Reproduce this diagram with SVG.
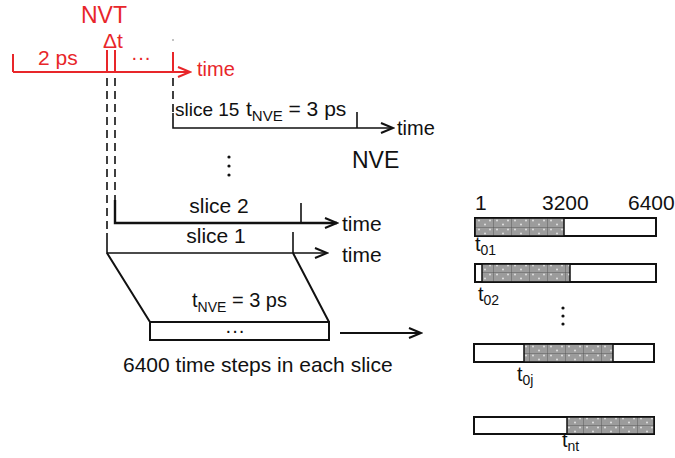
<svg xmlns="http://www.w3.org/2000/svg" width="675" height="458" viewBox="0 0 675 458">
<style>
text{font-family:"Liberation Sans",Arial,sans-serif;font-size:20px;fill:#111}
.red{fill:#e8262a}
.rl{stroke:#e8262a;stroke-width:2;fill:none}
.bl{stroke:#111;stroke-width:1.6;fill:none}
.dash{stroke:#111;stroke-width:1.6;stroke-dasharray:8 5;fill:none}
.bar{fill:#fff;stroke:#111;stroke-width:2}
.shade{fill:url(#hatch);stroke:#111;stroke-width:1.5}
.sub{font-size:14px}
.big{font-size:21px}
</style>
<defs>
<marker id="ar" markerUnits="userSpaceOnUse" markerWidth="16" markerHeight="14" refX="14" refY="6" orient="auto">
<path d="M2,1 L14,6 L2,11" fill="none" stroke="#111" stroke-width="2"/>
</marker>
<marker id="arr" markerUnits="userSpaceOnUse" markerWidth="16" markerHeight="14" refX="14" refY="6" orient="auto">
<path d="M2,1 L14,6 L2,11" fill="none" stroke="#e8262a" stroke-width="2"/>
</marker>
<pattern id="hatch" patternUnits="userSpaceOnUse" width="18" height="9" x="475" y="218">
<rect width="18" height="9" fill="#9c9c9c"/>
<circle cx="4" cy="2.5" r="1" fill="#e0e0e0"/>
<circle cx="10" cy="6.5" r="1" fill="#e0e0e0"/>
<circle cx="15" cy="2.5" r="1" fill="#e0e0e0"/>
<path d="M0,0 V9 M0,0 H18" stroke="#5a5a5a" stroke-width="1"/>
</pattern>
</defs>

<g id="nvt">
<text x="104" y="23" class="red" style="font-size:23px" text-anchor="middle">NVT</text>
<text x="113" y="48" class="red" text-anchor="middle" style="font-size:21px">Δt</text>
<text x="38" y="65" class="red big">2 ps</text>
<text x="141" y="64" class="red" text-anchor="middle">···</text>
<text x="197" y="76" class="red">time</text>
<circle cx="173" cy="40" r="0.8" fill="#777"/>
<path class="rl" d="M13,54 V72 M107,50 V72 M115,50 V72 M173,52 V72"/>
</g>

<g id="connectors">
<path class="rl" d="M13,72 H190" marker-end="url(#arr)"/>
<path class="dash" d="M107,78 V233 M115,78 V200 M173,78 V113"/>
<path class="bl" d="M173,113 V128 H393" marker-end="url(#ar)"/>
<path class="bl" d="M357,112 V128"/>
<path class="bl" style="stroke-width:2.4" d="M115,200 V223 H337" marker-end="url(#ar)"/>
<path class="bl" d="M301,203 V223"/>
<path class="bl" d="M107,233 V253 H327" marker-end="url(#ar)"/>
<path class="bl" d="M293,232 V253"/>
<path class="bl" style="stroke-width:2" d="M107,253 L150,322 M293,253 L329,322"/>
<path class="bl" style="stroke-width:2" d="M340,333 H421" marker-end="url(#ar)"/>
</g>

<g id="slice15">
<text x="175" y="116" style="font-size:19px">slice 15</text>
<text x="246" y="116" class="big">t<tspan style="font-size:15px" dy="5">NVE</tspan><tspan dy="-5"> = 3 ps</tspan></text>
<text x="397" y="135">time</text>
</g>

<g id="nve">
<text x="352" y="168" style="font-size:23px">NVE</text>
<circle cx="229" cy="157" r="1.6" fill="#111"/>
<circle cx="229" cy="166" r="1.6" fill="#111"/>
<circle cx="229" cy="175" r="1.6" fill="#111"/>
</g>

<g id="slice2">
<text x="219" y="213" class="big" text-anchor="middle">slice 2</text>
<text x="342" y="231" class="big">time</text>
</g>

<g id="slice1">
<text x="216" y="243" class="big" text-anchor="middle">slice 1</text>
<text x="342" y="262" class="big">time</text>
</g>

<g id="steps">
<text x="192" y="307">t<tspan class="sub" dy="5">NVE</tspan><tspan dy="-5"> = 3 ps</tspan></text>
<rect x="150" y="322" width="179" height="18" fill="#fff" stroke="#111" stroke-width="2"/>
<text x="235" y="337" text-anchor="middle">···</text>
<text x="123" y="372" class="big">6400 time steps in each slice</text>
</g>

<g id="bars">
<text x="475" y="210" class="big">1</text>
<text x="542" y="210" class="big">3200</text>
<text x="628" y="210" class="big">6400</text>
<rect class="bar" x="475" y="218" width="181" height="18"/>
<rect class="shade" x="475" y="218" width="89" height="18"/>
<text x="475" y="251">t<tspan class="sub" dy="4">01</tspan></text>
<rect class="bar" x="475" y="264" width="181" height="18"/>
<rect class="shade" x="482" y="264" width="88" height="18"/>
<text x="478" y="301">t<tspan class="sub" dy="4">02</tspan></text>
<circle cx="563" cy="308" r="1.6" fill="#111"/>
<circle cx="563" cy="316" r="1.6" fill="#111"/>
<circle cx="563" cy="324" r="1.6" fill="#111"/>
<rect class="bar" x="474" y="344" width="180" height="18"/>
<rect class="shade" x="524" y="344" width="89" height="18"/>
<text x="517" y="381">t<tspan class="sub" dy="4">0j</tspan></text>
<rect class="bar" x="474" y="417" width="180" height="17"/>
<rect class="shade" x="567" y="417" width="87" height="17"/>
<text x="562" y="447">t<tspan class="sub" dy="4">nt</tspan></text>
</g>
</svg>
